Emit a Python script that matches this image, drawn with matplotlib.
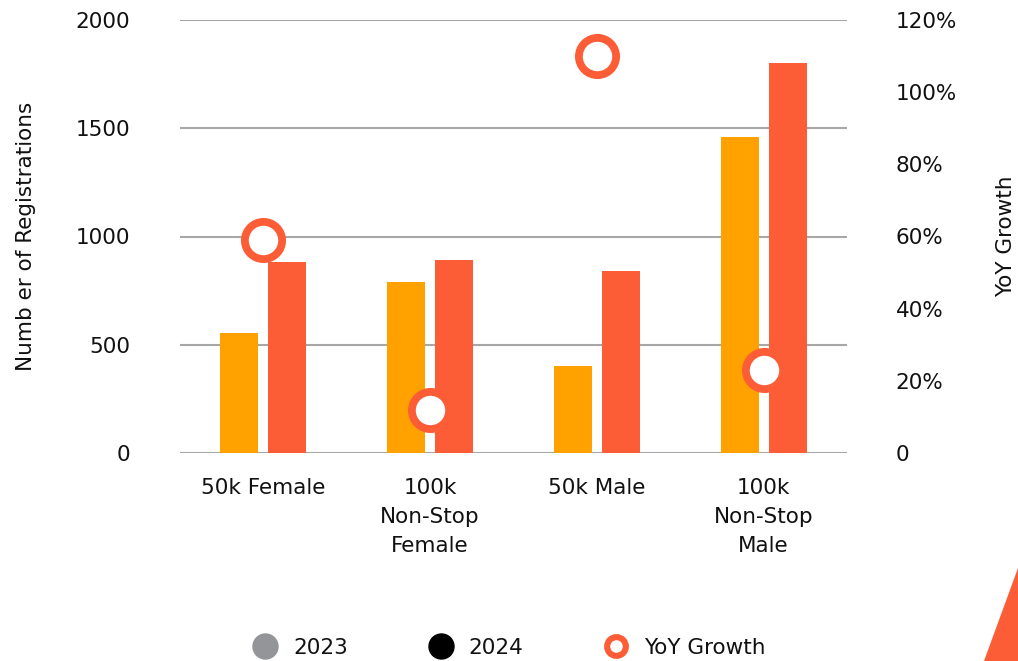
import numpy as np
import matplotlib.pyplot as plt
from matplotlib.lines import Line2D
from matplotlib.patches import Polygon

# registrations per race category
categories = ['50k Female', '100k\nNon-Stop\nFemale', '50k Male', '100k\nNon-Stop\nMale']
reg_2023 = [555, 790, 402, 1460]
reg_2024 = [880, 890, 840, 1800]
yoy_growth = [59, 12, 110, 23]  # percent

c_2023 = '#FFA200'
c_2024 = '#FC5D37'
grid_c = '#A7A7A7'
text_c = '#111111'

plt.rcParams['font.family'] = ['DejaVu Sans']
plt.rcParams['font.size'] = 15.5

fig = plt.figure(figsize=(10.18, 6.61), dpi=100)
ax = fig.add_axes([180 / 1018, 208 / 661, 667 / 1018, 433 / 661])
ax2 = ax.twinx()

x = np.arange(len(categories))
w = 0.228
off = 0.144
ax.bar(x - off, reg_2023, w, color=c_2023, zorder=2)
ax.bar(x + off, reg_2024, w, color=c_2024, zorder=2)

ax.set_xlim(-0.5, len(categories) - 0.5)
ax.set_ylim(0, 2000)
ax.set_yticks([0, 500, 1000, 1500, 2000])
ax.yaxis.grid(True, color=grid_c, linewidth=1.5, zorder=0)
ax.set_axisbelow(True)
ax.set_xticks(x)
ax.set_xticklabels(categories, linespacing=1.55)
ax.tick_params(axis='y', length=0, pad=36, colors=text_c)
ax.tick_params(axis='x', length=0, pad=18, colors=text_c)
ax.set_ylabel('Numb er of Registrations', labelpad=28, color=text_c)

ax2.set_ylim(0, 120)
ax2.set_yticks([0, 20, 40, 60, 80, 100, 120])
ax2.set_yticklabels(['0'] + [f'{v}%' for v in range(20, 121, 20)])
ax2.tick_params(axis='y', length=0, pad=35, colors=text_c)
ax2.set_ylabel('YoY Growth', labelpad=28, color=text_c)

# growth rings on top of the bars
ax2.plot(x, yoy_growth, linestyle='none', marker='o', markersize=26.8,
         markerfacecolor='white', markeredgecolor=c_2024, markeredgewidth=5.6,
         zorder=5, clip_on=False)

for a in (ax, ax2):
    for s in a.spines.values():
        s.set_visible(False)
ax.set_zorder(1)
ax2.set_zorder(2)
ax2.patch.set_visible(False)

handles = [
    Line2D([], [], linestyle='none', marker='o', markersize=18,
           markerfacecolor='#939598', markeredgecolor='#939598'),
    Line2D([], [], linestyle='none', marker='o', markersize=18,
           markerfacecolor='black', markeredgecolor='black'),
    Line2D([], [], linestyle='none', marker='o', markersize=13.5,
           markerfacecolor='white', markeredgecolor=c_2024, markeredgewidth=4.4),
]
fig.legend(handles, ['2023', '2024', 'YoY Growth'], loc='center',
           bbox_to_anchor=(0.5, 0.02), ncol=3, frameon=False,
           handletextpad=0.7, columnspacing=3.7, handlelength=1.2,
           labelcolor=text_c)

# corner accent
fig.patches.append(Polygon([(984 / 1018, 0), (1.0, 93 / 661), (1.0, 0)],
                           closed=True, transform=fig.transFigure,
                           facecolor=c_2024, edgecolor='none'))

fig.savefig('out.png', dpi=100)
